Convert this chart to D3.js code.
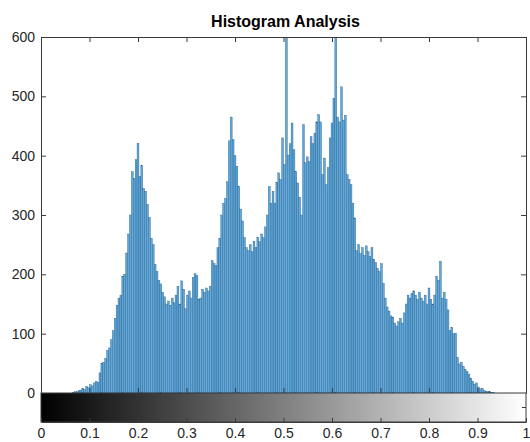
<!DOCTYPE html>
<html>
<head>
<meta charset="utf-8">
<script src="https://cdn.jsdelivr.net/npm/d3@7"></script>
<style>
  body { margin: 0; background: #fff; }
  text { font-family: "Liberation Sans", Arial, sans-serif; }
</style>
</head>
<body>
<svg id="chart"></svg>
<script>
// 256-bin intensity histogram (counts)
const binCounts = [
  0,0,0,0,0,0,0,0,0,0,0,0,0,0,0,0,
  0,1,2,2,4,5,8,6,11,9,14,12,17,20,18,34,
  50,52,58,72,76,90,105,126,148,160,165,197,200,236,268,300,
  373,362,393,421,365,383,345,340,318,296,261,250,217,205,190,184,
  170,162,150,155,148,160,152,165,180,150,189,175,142,165,172,160,
  195,201,198,158,160,175,170,177,172,180,223,218,215,245,260,300,
  320,328,356,425,465,427,400,382,348,310,290,262,245,240,250,238,
  256,245,262,255,268,262,280,300,348,320,340,320,355,371,360,430,
  385,612,401,420,455,410,373,354,330,300,452,388,398,390,432,420,
  438,457,469,457,368,396,351,380,430,455,497,612,465,457,516,460,
  468,368,360,351,320,295,240,250,235,245,232,248,238,230,245,225,
  220,210,205,218,185,160,145,138,130,128,118,113,120,126,118,135,
  150,165,160,168,172,165,158,170,160,155,165,150,177,158,150,165,
  197,190,222,160,170,158,140,105,110,100,101,60,49,52,45,40,
  36,32,25,20,15,17,10,7,8,4,3,2,2,1,1,0,
  0,0,0,0,0,0,0,0,0,0,0,0,0,0,0,0
];
const yTicks = [0, 100, 200, 300, 400, 500, 600];
const xTicks = [0, 0.1, 0.2, 0.3, 0.4, 0.5, 0.6, 0.7, 0.8, 0.9, 1];
const xTickLabels = ["0", "0.1", "0.2", "0.3", "0.4", "0.5", "0.6", "0.7", "0.8", "0.9", "1"];
const titleText = "Histogram Analysis";

const width = 530, height = 442;
const plotLeft = 41, plotRight = 526, plotTop = 37, plotBottom = 393, barBottom = 422;

const svg = d3.select("#chart").attr("width", width).attr("height", height);

const xScale = d3.scaleLinear().domain([0, 1]).range([plotLeft, plotRight]);
const yScale = d3.scaleLinear().domain([0, 600]).range([plotBottom, plotTop]);
const nBins = binCounts.length;
const half = 0.5 / (nBins - 1);

const defs = svg.append("defs");
defs.append("clipPath").attr("id", "plotclip")
  .append("rect").attr("x", plotLeft).attr("y", plotTop)
  .attr("width", plotRight - plotLeft).attr("height", plotBottom - plotTop);

// bars
svg.append("g").attr("clip-path", "url(#plotclip)")
  .selectAll("rect")
  .data(binCounts)
  .enter()
  .append("rect")
  .attr("x", (d, i) => xScale(i / (nBins - 1) - half))
  .attr("y", d => yScale(d))
  .attr("width", (d, i) => xScale(i / (nBins - 1) + half) - xScale(i / (nBins - 1) - half))
  .attr("height", d => yScale(0) - yScale(d))
  .attr("fill", "#5ea8db")
  .attr("stroke", "#24557e")
  .attr("stroke-width", 0.35);

const axisColor = "#3a3a3a";
const textColor = "#262626";

function styleAxis(g) {
  g.selectAll(".domain").attr("stroke", axisColor);
  g.selectAll(".tick line").attr("stroke", axisColor);
  g.selectAll(".tick text").attr("fill", textColor)
    .style("font-size", "14px").style("font-family", "'Liberation Sans', Arial, sans-serif");
}

// left axis
svg.append("g").attr("transform", `translate(${plotLeft},0)`)
  .call(d3.axisLeft(yScale).tickValues(yTicks).tickSizeInner(-5).tickSizeOuter(0).tickPadding(6))
  .call(styleAxis);

// right axis (ticks only)
svg.append("g").attr("transform", `translate(${plotRight},0)`)
  .call(d3.axisRight(yScale).tickValues(yTicks).tickSizeInner(-5).tickSizeOuter(0).tickFormat(""))
  .call(styleAxis);

// top axis (ticks only)
svg.append("g").attr("transform", `translate(0,${plotTop})`)
  .call(d3.axisTop(xScale).tickValues(xTicks).tickSizeInner(-5).tickSizeOuter(0).tickFormat(""))
  .call(styleAxis);

// bottom of histogram axes
svg.append("g").attr("transform", `translate(0,${plotBottom})`)
  .call(d3.axisBottom(xScale).tickValues(xTicks).tickSizeInner(-5).tickSizeOuter(0).tickFormat(""))
  .call(styleAxis);

// grayscale colorbar
const grad = defs.append("linearGradient").attr("id", "grayramp")
  .attr("x1", "0%").attr("x2", "100%").attr("y1", "0%").attr("y2", "0%");
grad.append("stop").attr("offset", "0%").attr("stop-color", "#000");
grad.append("stop").attr("offset", "100%").attr("stop-color", "#fff");

svg.append("rect")
  .attr("x", plotLeft).attr("y", plotBottom)
  .attr("width", plotRight - plotLeft).attr("height", barBottom - plotBottom)
  .attr("fill", "url(#grayramp)")
  .attr("stroke", axisColor).attr("stroke-width", 1);

// colorbar x axis with labels
svg.append("g").attr("transform", `translate(0,${barBottom})`)
  .call(d3.axisBottom(xScale).tickValues(xTicks).tickSizeInner(-4).tickSizeOuter(0)
    .tickPadding(6).tickFormat((d, i) => xTickLabels[i]))
  .call(styleAxis);

// small tick at the colorbar's right edge
svg.append("line")
  .attr("x1", plotRight).attr("x2", plotRight - 4)
  .attr("y1", (plotBottom + barBottom) / 2).attr("y2", (plotBottom + barBottom) / 2)
  .attr("stroke", axisColor);

// title
svg.append("text")
  .attr("x", (plotLeft + plotRight) / 2 + 2)
  .attr("y", 27)
  .attr("text-anchor", "middle")
  .style("font-size", "16px")
  .style("font-weight", "bold")
  .attr("fill", "#000")
  .text(titleText);
</script>
</body>
</html>
